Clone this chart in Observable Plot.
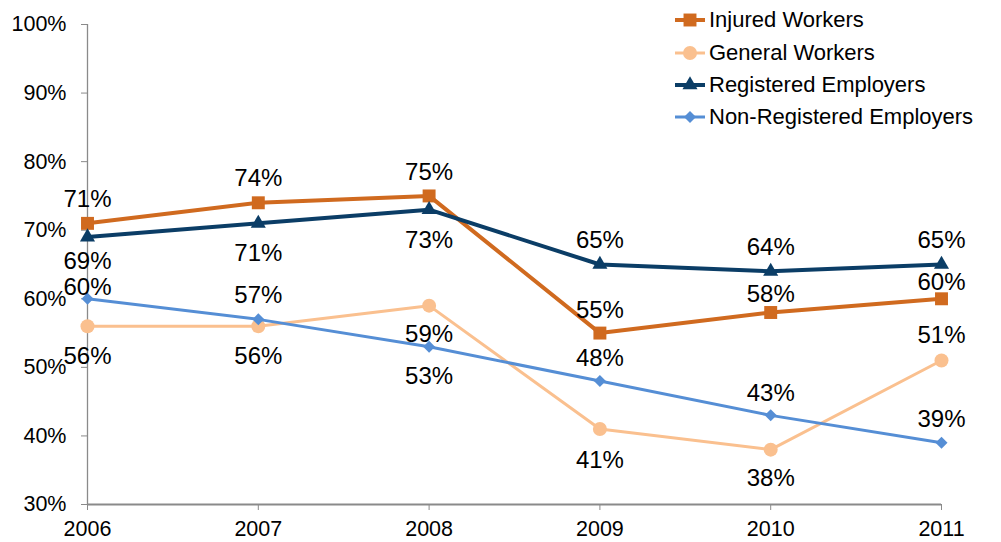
<!DOCTYPE html>
<html>
<head>
<meta charset="utf-8">
<script src="https://cdn.jsdelivr.net/npm/d3@7"></script>
<script src="https://cdn.jsdelivr.net/npm/@observablehq/plot@0.6"></script>
<style>
  html, body { margin: 0; padding: 0; background: #fff; }
  #wrap { position: relative; width: 1001px; height: 542px; }
  #legend { position: absolute; left: 674px; top: 4px; font-family: "Liberation Sans", Arial, sans-serif; font-size: 22px; color: #000; }
  .item { display: flex; align-items: center; height: 32.4px; }
  .item svg { margin-right: 3px; }
</style>
</head>
<body>
<div id="wrap"><div id="legend"></div></div>
<script>
// ---- data ----
const years = [2006, 2007, 2008, 2009, 2010, 2011];
const injuredWorkers = [71, 74, 75, 55, 58, 60];
const generalWorkers = [56, 56, 59, 41, 38, 51];
const registeredEmployers = [69, 71, 73, 65, 64, 65];
const nonRegisteredEmployers = [60, 57, 53, 48, 43, 39];
const seriesNames = ["Injured Workers", "General Workers", "Registered Employers", "Non-Registered Employers"];
const yTicks = [30, 40, 50, 60, 70, 80, 90, 100];

// ---- styling ----
const styles = {
  "Injured Workers": {color: "#D06A1F", width: 4, symbol: "square", r: 7.3},
  "General Workers": {color: "#FAC08F", width: 3, symbol: "circle", r: 7},
  "Registered Employers": {color: "#0B3D66", width: 4, symbol: "triangle", r: 5.6},
  "Non-Registered Employers": {color: "#558ED5", width: 3, symbol: "diamond2", r: 5.4}
};
// label vertical offsets (px) per point
const labelDy = {
  "Injured Workers": [-24, -24, -24, -23, -18, -16],
  "General Workers": [30, 30, 29, 31, 29, -25],
  "Registered Employers": [24, 30, 31, -24, -24, -24],
  "Non-Registered Employers": [-11, -24, 30, -23, -22, -23]
};

const seriesValues = [injuredWorkers, generalWorkers, registeredEmployers, nonRegisteredEmployers];
const rows = seriesNames.flatMap((s, i) => years.map((y, j) => ({series: s, year: y, value: seriesValues[i][j], idx: j})));

const font = "'Liberation Sans', Arial, sans-serif";
const axisColor = "#8A8A8A";

const marks = [
  Plot.ruleX([2006], {y1: 30, y2: 100, stroke: axisColor, strokeWidth: 1.3}),
  Plot.ruleY([30], {x1: 2006, x2: 2011, stroke: axisColor, strokeWidth: 2}),
  Plot.axisY({ticks: yTicks, tickFormat: d => d + "%", tickSize: 6, tickPadding: 15, stroke: axisColor, fill: "#000", fontSize: 21.5, label: null}),
  Plot.axisX({ticks: years, tickFormat: d => String(d), tickSize: 6, tickPadding: 10, stroke: axisColor, fill: "#000", fontSize: 21.5, label: null})
];
for (const s of seriesNames) {
  const st = styles[s];
  const d = rows.filter(r => r.series === s);
  marks.push(Plot.line(d, {x: "year", y: "value", stroke: st.color, strokeWidth: st.width}));
  marks.push(Plot.dot(d, {x: "year", y: "value", symbol: () => st.symbol, fill: st.color, stroke: "none", r: st.r}));
}
for (const s of seriesNames) {
  rows.filter(r => r.series === s).forEach(r => {
    marks.push(Plot.text([r], {x: "year", y: "value", text: d => d.value + "%", dy: labelDy[s][r.idx], fill: "#000", fontSize: 24}));
  });
}

const chart = Plot.plot({
  width: 1001,
  height: 542,
  marginLeft: 87,
  marginRight: 60,
  marginTop: 24,
  marginBottom: 38,
  x: {domain: [2006, 2011], label: null},
  y: {domain: [30, 100], label: null},
  symbol: {type: "identity"},
  style: {fontFamily: font, background: "transparent", overflow: "visible"},
  marks
});
document.getElementById("wrap").prepend(chart);

// ---- legend ----
const legend = document.getElementById("legend");
const symbolTypes = {square: d3.symbolSquare, circle: d3.symbolCircle, triangle: d3.symbolTriangle, diamond2: d3.symbolDiamond2};
for (const s of seriesNames) {
  const st = styles[s];
  const path = d3.symbol().type(symbolTypes[st.symbol]).size(Math.PI * st.r ** 2)();
  const div = document.createElement("div");
  div.className = "item";
  div.innerHTML = `<svg width="32" height="20" viewBox="0 0 32 20"><line x1="1" x2="31" y1="10" y2="10" stroke="${st.color}" stroke-width="${st.width}"/><path transform="translate(16,10)" d="${path}" fill="${st.color}"/></svg><span>${s}</span>`;
  legend.appendChild(div);
}
</script>
</body>
</html>
